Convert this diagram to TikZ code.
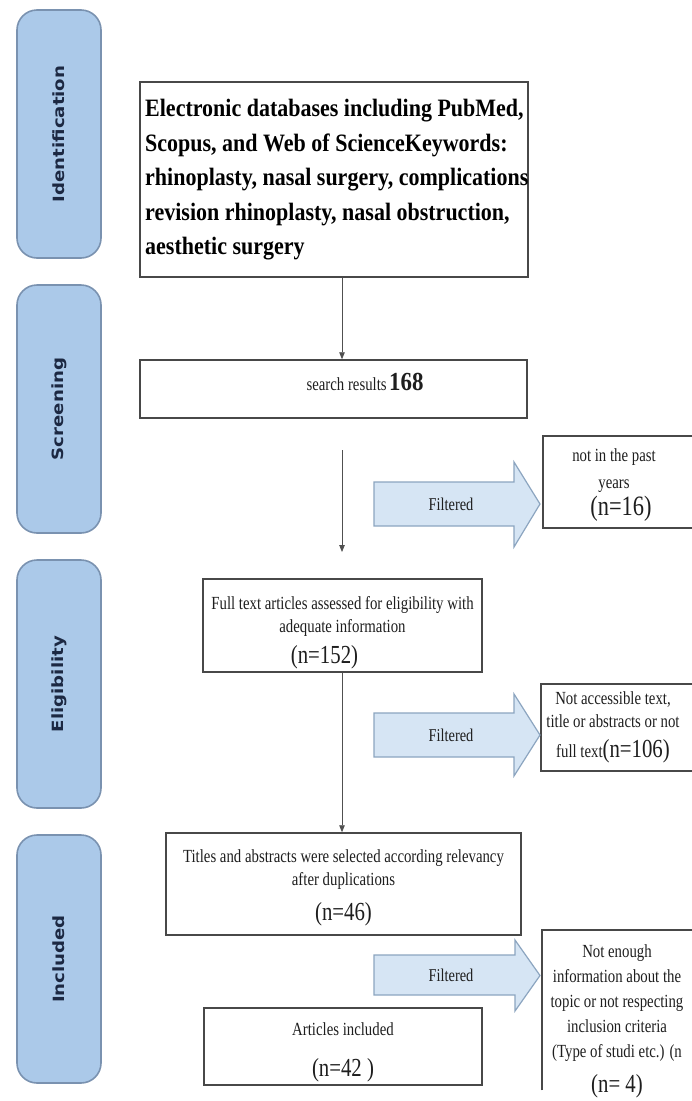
\documentclass[tikz,border=0pt]{standalone}
\usepackage{fontspec}
\setmainfont{Liberation Serif}
\newfontfamily\nar[FakeStretch=0.8]{Liberation Serif}
\newfontfamily\narbold[FakeStretch=0.88]{Liberation Serif}
\newfontfamily\tabfont[FakeStretch=1.17]{DejaVu Sans}
\usetikzlibrary{arrows.meta}
\definecolor{tabfill}{RGB}{171,201,233}
\definecolor{tabline}{RGB}{122,146,176}
\definecolor{arfill}{RGB}{214,229,244}
\definecolor{arline}{RGB}{140,165,192}
\definecolor{boxline}{RGB}{72,72,72}
\definecolor{connc}{RGB}{80,80,80}
\definecolor{tabtext}{RGB}{28,40,66}
\definecolor{txt}{RGB}{30,30,30}
\begin{document}
\begin{tikzpicture}[x=1pt,y=-1pt,
  tabbox/.style={draw=tabline, line width=1.6pt, fill=tabfill, rounded corners=20pt,
    minimum width=84pt, minimum height=248pt, inner sep=0pt},
  tablabel/.style={rotate=90, font=\tabfont\bfseries\fontsize{15.5}{18}\selectfont,
    text=tabtext, inner sep=0pt},
  frame/.style={draw=boxline, line width=1.5pt, fill=white, inner sep=0pt},
  frameline/.style={draw=boxline, line width=1.5pt},
  rtext/.style={font=\nar\fontsize{18.5}{23}\selectfont, align=center, inner sep=0pt, text=txt},
  filt/.style={draw=arline, line width=1.2pt, fill=arfill, line join=miter},
  filtlabel/.style={font=\nar\fontsize{18}{22}\selectfont, text=txt, inner sep=0pt},
  conn/.style={draw=connc, line width=0.8pt, -{Triangle[length=7pt,width=5.5pt]}}
]
\useasboundingbox (0,0) rectangle (692,1101);
\fill[white] (0,0) rectangle (692,1101);

% phase tabs
\node[tabbox] (tabI) at (59,134) {};
\node[tablabel] (tabIt) at (tabI.center) {Identification};
\node[tabbox] (tabS) at (59,409) {};
\node[tablabel] (tabSt) at (tabS.center) {Screening};
\node[tabbox] (tabE) at (59,684) {};
\node[tablabel] (tabEt) at (tabE.center) {Eligibility};
\node[tabbox] (tabN) at (59,959) {};
\node[tablabel] (tabNt) at (tabN.center) {Included};

% main boxes
\node[frame, minimum width=388pt, minimum height=195pt] (db) at (334,179.5) {};
\node[anchor=west, inner sep=0pt, align=left, text=black,
  font=\narbold\bfseries\fontsize{25}{34.5}\selectfont] (dbt) at (145,180)
  {Electronic databases including PubMed,\\
   Scopus, and Web of ScienceKeywords:\\
   rhinoplasty, nasal surgery, complications\\
   revision rhinoplasty, nasal obstruction,\\
   aesthetic surgery};

\node[frame, minimum width=387pt, minimum height=58pt] (srch) at (333.5,389) {};
\node[inner sep=0pt, text=txt] (srcht) at (365,382)
  {{\nar\fontsize{18.5}{22}\selectfont search results} {\narbold\bfseries\fontsize{26}{30}\selectfont 168}};

\node[frame, minimum width=279pt, minimum height=93pt] (elig) at (342.5,625.5) {};
\node[rtext] (eligt) at (342.5,632.5)
  {Full text articles assessed for eligibility with\\
   adequate information\\[8pt]
   {\fontsize{26}{26}\selectfont (n=152)}\hspace*{36pt}};

\node[frame, minimum width=355pt, minimum height=102pt] (titl) at (343.5,884) {};
\node[rtext] (titlt) at (343.5,888)
  {Titles and abstracts were selected according relevancy\\
   after duplications\\[12pt]
   {\fontsize{26}{26}\selectfont (n=46)}};

\node[frame, minimum width=278pt, minimum height=77pt] (art) at (343,1046.5) {};
\node[rtext] (artt) at (343,1052)
  {Articles included\\[18pt]
   {\fontsize{26}{26}\selectfont (n=42 )}};

% exclusion boxes
\node[frame, minimum width=154pt, minimum height=92pt, anchor=north west] (ex1) at (542,435) {};
\node[rtext] (ex1t) at (614,485)
  {not in the past\\[4pt]
   years\\[2pt]
   \hspace*{14pt}{\fontsize{28}{28}\selectfont (n=16)}};

\node[frame, minimum width=156pt, minimum height=87pt, anchor=north west] (ex2) at (540,683) {};
\node[rtext] (ex2t) at (613,727.5)
  {Not accessible text,\\
   title or abstracts or not\\[7pt]
   full text{\fontsize{26}{26}\selectfont (n=106)}};

\node[minimum width=154pt, minimum height=160pt, inner sep=0pt, anchor=north west] (ex3) at (542,930) {};
\draw[frameline] (ex3.south west) -- (ex3.north west) -- (ex3.north east);
\node[rtext, font=\nar\fontsize{18.5}{25}\selectfont] (ex3t) at (617,1021)
  {Not enough\\
   information about the\\
   topic or not respecting\\
   inclusion criteria\\
   (Type of studi etc.) (n\\[10pt]
   {\fontsize{26}{26}\selectfont (n= 4)}};

% filtered arrows
\draw[filt] (374,482) -- (514,482) -- (514,462) -- (540,504) -- (514,547) -- (514,526) -- (374,526) -- cycle;
\node[filtlabel] (f1) at (451,504) {Filtered};
\draw[filt] (374,713) -- (514,713) -- (514,694) -- (540,735) -- (514,776) -- (514,757) -- (374,757) -- cycle;
\node[filtlabel] (f2) at (451,735) {Filtered};
\draw[filt] (374,955) -- (515,955) -- (515,940) -- (540,975.5) -- (515,1011) -- (515,995) -- (374,995) -- cycle;
\node[filtlabel] (f3) at (451,975) {Filtered};

% connectors
\coordinate (ax) at (342,0);
\draw[conn] (ax |- db.south) -- (ax |- srch.north);
\coordinate (c2a) at (342,450);
\coordinate (c2b) at (342,552);
\draw[conn] (c2a) -- (c2b);
\draw[conn] (ax |- elig.south) -- (ax |- titl.north);
\end{tikzpicture}
\end{document}
